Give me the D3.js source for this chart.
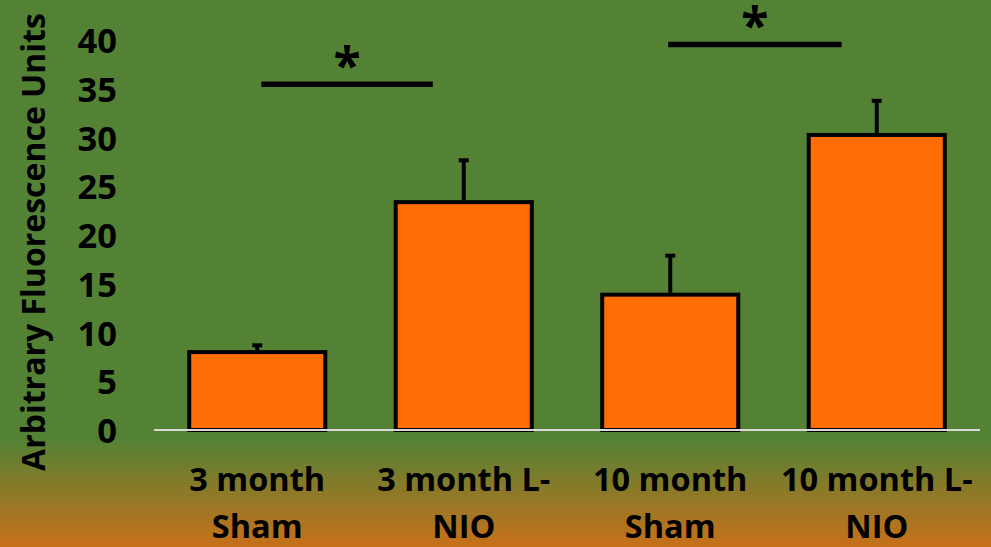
<!DOCTYPE html>
<html>
<head>
<meta charset="utf-8">
<script src="https://cdn.jsdelivr.net/npm/d3@7"></script>
<style>
  html, body { margin: 0; padding: 0; background: #548235; }
  svg { display: block; }
  text { font-family: "Open Sans", "DejaVu Sans", sans-serif; font-weight: bold; fill: #000; }
</style>
</head>
<body>
<svg id="chart" width="991" height="547"></svg>
<script>
// ---- data ----
const categories = ["3 month Sham", "3 month L-NIO", "10 month Sham", "10 month L-NIO"];
const categoryLines = [["3 month", "Sham"], ["3 month L-", "NIO"], ["10 month", "Sham"], ["10 month L-", "NIO"]];
const values = [8.0, 23.4, 13.9, 30.3];
const errors = [0.7, 4.3, 4.0, 3.5];
const yTicks = [0, 5, 10, 15, 20, 25, 30, 35, 40];
const yTitle = "Arbitrary Fluorescence Units";
// significance brackets: start/end expressed in category-index units, level in data units
const sigStart = [0.02, 1.99];
const sigEnd = [0.85, 2.83];
const sigLevel = [35.5, 39.6];
const sigLabel = ["*", "*"];

// ---- layout ----
const W = 991, H = 547;
const svg = d3.select("#chart");

const defs = svg.append("defs");
const grad = defs.append("linearGradient")
  .attr("id", "bg").attr("gradientUnits", "userSpaceOnUse")
  .attr("x1", 0).attr("y1", 0).attr("x2", 0).attr("y2", H);
grad.append("stop").attr("offset", 0).attr("stop-color", "#548235");
grad.append("stop").attr("offset", 440 / H).attr("stop-color", "#548235");
grad.append("stop").attr("offset", 1).attr("stop-color", "#c8701a");
svg.append("rect").attr("width", W).attr("height", H).attr("fill", "url(#bg)");

const x = d3.scaleBand().domain(categories).range([154, 980])
  .paddingInner(0.341).paddingOuter(0.1705);
const y = d3.scaleLinear().domain([0, 40]).range([430, 40.5]);
const step = x.step();
const center = i => x(categories[0]) + x.bandwidth() / 2 + i * step;

// y axis labels
const yAxis = d3.axisLeft(y).tickValues(yTicks).tickSize(0).tickPadding(0);
const gy = svg.append("g").attr("transform", "translate(117,0)").call(yAxis);
gy.select(".domain").remove();
gy.selectAll("text")
  .style("font-family", '"Open Sans", sans-serif')
  .style("font-weight", "bold")
  .style("font-size", "34.5px")
  .attr("fill", "#000")
  .attr("x", 0)
  .attr("dy", "0.36em");

// y title
svg.append("text")
  .attr("transform", "translate(45,242) rotate(-90)")
  .attr("text-anchor", "middle")
  .style("font-size", "32px")
  .text(yTitle);

// bars
svg.append("g").selectAll("rect").data(values).join("rect")
  .attr("x", (d, i) => x(categories[i]))
  .attr("width", x.bandwidth())
  .attr("y", d => y(d))
  .attr("height", d => y(0) - y(d))
  .attr("fill", "#ff6d05")
  .attr("stroke", "#000")
  .attr("stroke-width", 4)
  .attr("stroke-linejoin", "miter");

// error bars (upper only)
const eg = svg.append("g");
values.forEach((v, i) => {
  const cx = x(categories[i]) + x.bandwidth() / 2;
  eg.append("line")
    .attr("x1", cx).attr("x2", cx)
    .attr("y1", y(v) - 2).attr("y2", y(v + errors[i]))
    .attr("stroke", "#000").attr("stroke-width", 4);
  eg.append("line")
    .attr("x1", cx - 5).attr("x2", cx + 5)
    .attr("y1", y(v + errors[i])).attr("y2", y(v + errors[i]))
    .attr("stroke", "#000").attr("stroke-width", 4);
});

// x axis line (drawn over the bar bottoms)
svg.append("line")
  .attr("x1", 154).attr("x2", 980)
  .attr("y1", y(0)).attr("y2", y(0))
  .attr("stroke", "#d9d9d9").attr("stroke-width", 2);

// x labels
const xl = svg.append("g").selectAll("text").data(categoryLines).join("text")
  .attr("text-anchor", "middle")
  .style("font-size", "32.5px");
xl.each(function (lines, i) {
  const t = d3.select(this);
  lines.forEach((ln, j) => {
    t.append("tspan")
      .attr("x", x(categories[i]) + x.bandwidth() / 2)
      .attr("y", 491 + j * 47)
      .text(ln);
  });
});

// significance brackets
const sg = svg.append("g");
sigLevel.forEach((lv, k) => {
  const x1 = center(sigStart[k]), x2 = center(sigEnd[k]);
  sg.append("line")
    .attr("x1", x1).attr("x2", x2)
    .attr("y1", y(lv)).attr("y2", y(lv))
    .attr("stroke", "#000").attr("stroke-width", 5.5);
  sg.append("text")
    .attr("x", (x1 + x2) / 2)
    .attr("y", y(lv) - 1)
    .attr("text-anchor", "middle")
    .style("font-size", "50px")
    .style("font-weight", "bold")
    .text(sigLabel[k]);
});
</script>
</body>
</html>
